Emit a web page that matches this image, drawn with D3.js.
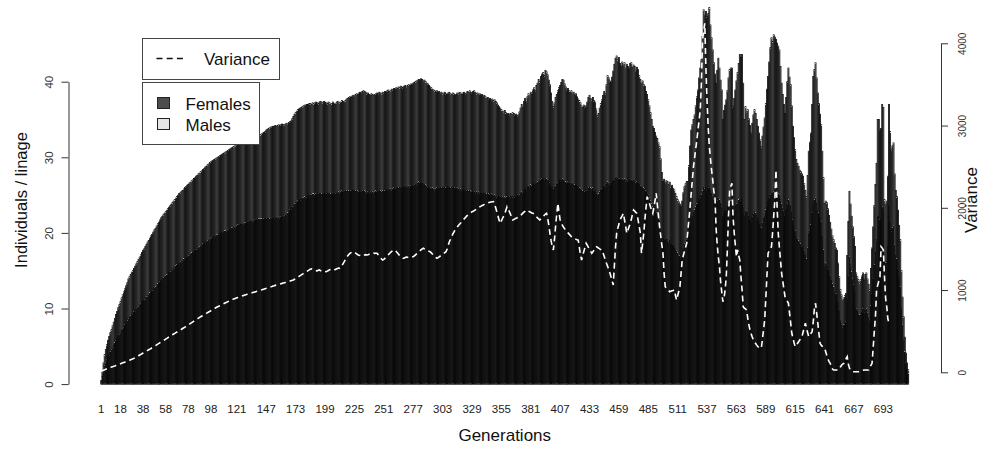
<!DOCTYPE html>
<html>
<head>
<meta charset="utf-8">
<script src="https://cdn.jsdelivr.net/npm/d3@7"></script>
<style>
  body { margin: 0; background: #fff; }
  svg { display: block; }
  text { font-family: "Liberation Sans", Arial, sans-serif; }
</style>
</head>
<body>
<svg id="chart" width="986" height="449"></svg>
<script>
// Mean individuals per lineage (females + males) for each generation
const individuals = [
0.5,1.6,2.8,3.9,4.6,5.2,5.8,6.3,6.8,7.2,
7.7,8.2,8.7,9.2,9.6,10.1,10.5,10.9,11.4,11.8,
12.2,12.6,13.0,13.4,13.9,14.2,14.5,14.8,15.0,15.3,
15.6,15.9,16.2,16.5,16.8,17.1,17.4,17.7,17.9,18.2,
18.5,18.8,19.0,19.3,19.6,19.8,20.1,20.4,20.6,20.9,
21.2,21.4,21.7,22.0,22.2,22.4,22.6,22.8,23.0,23.2,
23.4,23.6,23.8,24.0,24.2,24.4,24.6,24.8,25.0,25.2,
25.3,25.5,25.6,25.8,26.0,26.1,26.3,26.4,26.6,26.7,
26.9,27.0,27.2,27.3,27.5,27.6,27.8,27.9,28.1,28.2,
28.4,28.5,28.7,28.8,29.0,29.1,29.3,29.4,29.5,29.6,
29.7,29.8,29.9,30.0,30.1,30.2,30.3,30.4,30.5,30.6,
30.7,30.8,30.9,31.0,31.1,31.2,31.3,31.4,31.5,31.5,
31.6,31.7,31.8,31.8,31.9,32.0,32.0,32.1,32.2,32.2,
32.3,32.3,32.4,32.4,32.5,32.5,32.6,32.6,32.6,32.7,
32.8,33.0,33.1,33.2,33.3,33.4,33.6,33.7,33.8,33.9,
34.0,34.0,34.1,34.1,34.2,34.1,34.2,34.3,34.2,34.3,
34.4,34.3,34.3,34.4,34.5,34.4,34.6,34.7,34.8,35.1,
35.4,35.7,35.9,36.1,36.3,36.4,36.5,36.6,36.7,36.8,
36.9,36.9,37.0,37.0,37.1,37.1,37.0,37.2,37.1,37.2,
37.3,37.2,37.1,37.3,37.4,37.3,37.2,37.4,37.3,37.2,
37.1,37.3,37.2,37.0,37.1,37.3,37.1,37.0,37.2,37.4,
37.3,37.2,37.3,37.5,37.4,37.3,37.5,37.7,37.8,37.9,
38.0,37.9,38.1,38.2,38.1,38.3,38.4,38.3,38.5,38.6,
38.5,38.7,38.8,38.7,38.6,38.4,38.5,38.3,38.2,38.4,
38.3,38.2,38.3,38.4,38.5,38.4,38.6,38.5,38.4,38.6,
38.5,38.7,38.6,38.8,38.9,38.7,38.8,39.0,38.9,39.1,
39.0,39.2,39.1,39.3,39.2,39.4,39.3,39.2,39.4,39.5,
39.3,39.5,39.6,39.5,39.7,39.6,39.8,39.9,40.0,40.1,
40.2,40.3,40.2,40.4,40.3,40.1,40.2,40.0,39.8,39.7,
39.5,39.3,39.2,39.0,38.9,38.8,38.7,38.8,38.6,38.7,
38.5,38.6,38.4,38.5,38.6,38.4,38.3,38.5,38.6,38.4,
38.3,38.5,38.4,38.2,38.3,38.5,38.4,38.6,38.5,38.3,
38.5,38.6,38.4,38.5,38.7,38.6,38.8,38.6,38.5,38.7,
38.8,38.6,38.4,38.5,38.3,38.4,38.2,38.3,38.1,38.2,
38.0,37.8,37.9,37.7,37.8,37.6,37.7,37.5,37.6,37.4,
37.2,36.9,36.7,36.5,36.3,36.1,36.0,36.2,35.9,35.7,
35.8,35.6,35.8,35.7,35.9,35.8,35.6,35.7,35.5,35.6,
36.0,36.5,37.0,36.6,37.4,37.8,37.3,38.0,38.4,38.1,
38.6,38.3,38.9,39.2,38.8,39.5,39.8,40.3,40.0,40.7,
41.0,41.2,40.8,41.5,41.3,40.9,40.2,39.6,38.5,37.4,
36.7,37.2,37.9,38.3,38.8,39.2,39.5,39.9,40.3,40.2,
39.7,39.3,38.9,39.1,38.8,38.6,38.8,38.5,38.6,38.3,
38.4,38.0,37.7,37.5,37.2,36.8,36.6,36.9,36.5,36.8,
37.3,37.9,38.2,37.8,37.6,37.9,37.5,37.3,36.4,35.5,
35.8,36.5,37.1,37.6,38.2,38.7,38.4,39.6,40.8,40.5,
40.1,39.9,40.6,41.4,42.3,43.1,43.4,42.9,43.2,42.4,
42.0,42.6,42.2,42.5,41.8,42.3,42.0,41.7,42.4,42.5,
41.9,42.2,42.0,41.4,41.9,41.6,40.8,40.3,39.8,40.1,
39.6,39.4,38.7,38.3,37.6,36.8,35.9,35.0,34.1,33.8,
33.3,32.8,32.5,31.9,31.4,29.8,28.0,26.8,27.1,26.6,
26.9,26.8,26.4,26.7,26.1,26.3,25.9,25.7,25.2,24.8,
24.4,24.1,23.8,23.5,24.2,25.3,26.1,26.5,26.8,26.8,
28.9,31.5,33.6,34.3,35.0,35.6,36.8,38.0,38.9,40.5,
41.8,42.9,46.0,49.5,48.8,49.3,48.6,49.0,49.8,47.5,
45.8,44.2,42.5,41.0,39.8,41.5,43.1,41.8,40.2,38.9,
35.0,36.2,36.9,37.6,38.8,40.5,41.6,41.8,41.8,36.7,
37.8,38.9,40.1,41.2,42.4,43.6,43.2,43.6,39.8,35.0,
36.7,36.0,36.3,35.1,34.2,33.2,34.5,35.6,36.3,35.8,
35.0,34.1,33.2,32.3,31.4,32.8,34.0,35.2,37.1,39.0,
40.7,42.6,44.5,45.8,45.3,46.2,45.9,45.6,45.1,44.7,
44.2,42.0,39.8,38.3,37.0,35.8,37.9,40.0,41.8,40.6,
39.6,36.8,34.1,32.6,31.0,29.7,29.2,28.8,28.3,28.1,
27.8,27.5,26.5,25.6,24.8,27.6,30.8,32.0,33.2,37.0,
40.7,41.6,42.5,40.5,38.5,37.1,35.7,34.3,30.8,27.3,
23.9,24.2,24.0,23.2,22.3,21.4,20.5,19.6,19.1,18.6,
18.0,17.7,16.0,14.2,12.5,11.8,11.1,11.4,11.7,12.0,
17.0,21.5,25.5,23.8,22.2,20.8,19.5,18.2,14.7,14.2,
13.8,13.4,13.8,14.3,14.7,13.9,14.5,14.7,13.9,13.2,
12.5,15.3,18.0,20.8,23.6,26.4,29.2,35.0,35.0,33.6,
33.8,37.0,36.6,24.4,23.8,24.2,27.5,37.0,33.4,31.0,
31.5,31.9,27.8,25.6,24.8,23.0,21.0,19.1,15.0,11.5,
8.9,6.2,4.1,2.8,1.9
];

// Mean females per lineage for each generation (bottom segment of each bar)
const females = [
0.3,1.0,1.7,2.4,2.8,3.2,3.6,3.9,4.2,4.5,
4.8,5.1,5.4,5.7,6.0,6.3,6.5,6.8,7.1,7.3,
7.6,7.8,8.1,8.3,8.6,8.8,9.0,9.2,9.3,9.5,
9.7,9.9,10.0,10.2,10.4,10.6,10.8,11.0,11.1,11.3,
11.5,11.7,11.8,12.0,12.2,12.3,12.5,12.7,12.8,13.0,
13.2,13.3,13.5,13.7,13.8,14.0,14.1,14.3,14.4,14.6,
14.7,14.8,15.0,15.1,15.3,15.4,15.6,15.7,15.9,16.0,
16.1,16.2,16.3,16.5,16.6,16.7,16.8,16.9,17.1,17.2,
17.3,17.4,17.5,17.6,17.7,17.9,18.0,18.1,18.2,18.3,
18.5,18.6,18.7,18.8,18.9,19.0,19.1,19.2,19.3,19.4,
19.5,19.6,19.7,19.7,19.8,19.9,20.0,20.0,20.1,20.2,
20.2,20.3,20.4,20.4,20.5,20.6,20.6,20.7,20.8,20.8,
20.9,21.0,21.0,21.1,21.1,21.2,21.2,21.3,21.3,21.4,
21.4,21.5,21.5,21.6,21.6,21.6,21.7,21.7,21.7,21.8,
21.8,21.8,21.8,21.9,21.8,21.9,21.8,21.9,21.9,21.8,
21.9,22.0,21.9,22.0,22.0,21.9,22.0,22.1,22.0,22.1,
22.2,22.1,22.2,22.3,22.4,22.6,22.8,23.0,23.2,23.4,
23.6,23.8,24.0,24.1,24.2,24.3,24.4,24.5,24.6,24.6,
24.7,24.8,24.8,24.9,24.9,25.0,25.0,25.1,25.1,25.0,
25.1,25.2,25.1,25.2,25.2,25.1,25.2,25.3,25.2,25.1,
25.2,25.3,25.2,25.1,25.2,25.3,25.2,25.1,25.2,25.3,
25.4,25.3,25.4,25.5,25.4,25.5,25.6,25.5,25.6,25.5,
25.6,25.5,25.6,25.7,25.6,25.5,25.6,25.5,25.4,25.5,
25.4,25.5,25.6,25.5,25.4,25.3,25.4,25.3,25.2,25.3,
25.4,25.3,25.4,25.5,25.4,25.5,25.6,25.5,25.4,25.5,
25.6,25.5,25.6,25.7,25.6,25.7,25.8,25.7,25.8,25.9,
25.8,25.9,26.0,25.9,26.0,26.1,26.0,26.1,26.2,26.1,
26.0,26.1,26.2,26.1,26.2,26.3,26.2,26.3,26.4,26.5,
26.6,26.7,26.6,26.7,26.6,26.5,26.4,26.3,26.2,26.1,
26.0,25.9,25.8,25.9,25.8,25.7,25.8,25.9,25.8,25.9,
26.0,25.9,26.0,26.1,26.0,25.9,26.0,26.1,26.0,25.9,
26.0,26.1,26.0,25.9,25.8,25.9,25.8,25.7,25.8,25.7,
25.6,25.7,25.6,25.5,25.6,25.5,25.6,25.5,25.4,25.5,
25.4,25.3,25.4,25.3,25.4,25.3,25.2,25.3,25.2,25.3,
25.2,25.1,25.2,25.1,25.0,25.1,25.0,24.9,25.0,24.9,
24.8,24.9,24.8,24.7,24.8,24.7,24.8,24.7,24.6,24.7,
24.8,24.7,24.8,24.9,24.8,24.9,24.8,24.9,25.0,24.9,
25.0,25.2,25.4,25.3,25.6,25.8,25.7,26.0,26.2,26.1,
26.3,26.2,26.4,26.5,26.4,26.6,26.7,26.9,26.8,27.0,
27.1,27.2,27.0,27.2,27.1,27.0,26.8,26.6,26.3,26.0,
25.8,26.0,26.2,26.4,26.6,26.8,26.9,27.0,27.1,27.0,
26.9,26.7,26.6,26.7,26.6,26.5,26.6,26.4,26.5,26.3,
26.4,26.2,26.0,25.9,25.8,25.6,25.5,25.6,25.4,25.5,
25.7,25.9,26.0,25.9,25.8,25.9,25.7,25.6,25.3,25.0,
25.1,25.4,25.6,25.8,26.0,26.2,26.1,26.4,26.7,26.6,
26.5,26.4,26.6,26.8,27.0,27.2,27.3,27.2,27.3,27.1,
27.0,27.1,27.0,27.1,26.9,27.0,26.9,26.8,27.0,27.0,
26.8,26.9,26.8,26.6,26.7,26.6,26.4,26.2,26.0,26.1,
25.9,25.8,25.5,25.3,25.0,24.6,24.2,23.8,23.4,23.2,
22.9,22.6,22.4,22.0,21.7,20.8,19.8,19.1,19.3,19.0,
19.2,19.1,18.8,19.0,18.6,18.7,18.4,18.3,17.9,17.6,
17.3,17.1,16.9,16.7,17.2,17.9,18.5,18.8,19.0,19.0,
20.0,21.2,22.0,22.4,22.7,23.0,23.4,23.8,24.0,24.5,
24.8,25.0,25.5,26.0,25.8,26.0,25.7,25.9,26.1,25.6,
25.2,24.9,24.5,24.1,23.8,24.2,24.6,24.3,23.9,23.6,
22.4,22.8,23.0,23.2,23.5,23.9,24.1,24.2,24.2,22.9,
23.2,23.5,23.8,24.0,24.3,24.5,24.4,24.5,23.6,22.4,
22.9,22.7,22.8,22.4,22.0,21.6,22.1,22.5,22.8,22.6,
22.3,21.9,21.5,21.1,20.6,21.3,21.9,22.4,23.0,23.6,
24.1,24.6,25.0,25.3,25.2,25.4,25.3,25.3,25.2,25.1,
25.0,24.4,23.8,23.3,22.9,22.4,23.1,23.8,24.3,24.0,
23.7,22.7,21.7,21.0,20.2,19.5,19.2,18.9,18.6,18.5,
18.3,18.1,17.6,17.0,16.5,18.0,19.8,20.4,21.0,22.6,
24.0,24.3,24.6,23.9,23.2,22.6,22.0,21.4,19.6,17.7,
15.8,16.0,15.9,15.4,14.9,14.3,13.7,13.2,12.8,12.5,
12.1,11.9,10.8,9.6,8.5,8.0,7.6,7.8,8.0,8.2,
11.4,14.3,16.8,15.8,14.8,13.9,13.1,12.2,9.9,9.6,
9.3,9.1,9.3,9.7,9.9,9.4,9.8,9.9,9.4,8.9,
8.5,10.3,12.1,13.9,15.7,17.4,19.1,22.4,22.4,21.7,
21.8,23.4,23.2,16.3,16.0,16.2,18.2,23.5,21.6,20.3,
20.6,20.9,18.4,17.0,16.5,15.4,14.1,12.8,10.1,7.8,
6.0,4.2,2.8,1.9,1.3
];

// Variance of lineage size per generation (right axis); not available for the last generations
const variance = [
15,20,26,31,37,42,48,53,58,63,68,73,78,84,89,94,99,104,109,115,
120,125,131,136,142,147,153,158,164,170,
178,186,194,202,210,218,226,234,242,250,258,266,274,282,290,
299,308,316,325,334,343,351,360,369,378,386,395,404,413,
422,430,439,447,456,465,473,482,490,499,507,516,524,533,541,550,
559,568,577,586,595,604,613,622,631,640,649,658,667,676,
684,692,700,709,717,725,733,741,749,757,766,774,782,790,
797,804,811,818,825,832,839,846,852,859,866,873,880,
885,890,895,900,905,910,915,920,925,930,935,940,
944,948,952,957,961,965,969,973,977,981,986,990,
994,999,1003,1008,1012,1017,1021,1026,1030,1035,1039,1043,1048,1052,1057,1061,
1065,1069,1073,1077,1081,1085,1089,1093,1097,1102,1106,1110,1114,1118,1122,
1131,1140,1149,1157,1166,1175,1184,1193,1201,1210,1219,1228,1237,1245,1254,
1258,1252,1246,1240,1236,1232,1240,1244,1236,1228,1224,1230,1226,1223,
1230,1238,1246,1250,1245,1240,1244,1250,1256,1262,1268,1264,
1280,1300,1322,1345,1370,1395,1415,1432,1445,1455,1462,1466,
1460,1450,1440,1430,1424,1420,1416,1410,1418,1425,1430,1426,
1430,1436,1442,1448,1452,1450,1446,1448,1447,
1430,1412,1395,1378,1365,
1372,1385,1400,1415,1430,1445,1458,1470,1478,1484,1487,
1470,1452,1435,1418,1404,1392,1386,
1390,1396,1402,1398,1392,1396,1400,1404,1405,
1415,1428,1440,1452,1465,1478,1490,1500,1508,
1500,1494,1488,1480,1472,1466,
1452,1438,1424,1410,1396,1386,
1394,1404,1414,1424,1434,1444,1456,1466,
1500,1545,1588,
1618,1650,1680,1705,1730,
1750,1768,1785,1800,1815,1835,1852,
1865,1880,1895,1908,1920,1933,
1942,1950,1958,1966,1975,1984,1993,2003,2013,
2020,2028,2035,2042,2050,2055,
2060,2064,2068,2071,2073,2074,
2040,2000,1950,1900,1850,1811,
1840,1870,1900,1930,1970,2013,
1985,1955,1925,1890,1852,
1858,1865,1872,1878,1885,1892,
1905,1920,1935,1948,1960,1973,
1968,1960,1952,1945,1938,1933,
1920,1905,1890,1878,1865,1852,
1865,1880,1895,1910,1922,1933,
1870,1790,1690,1600,1530,1487,
1620,1780,1920,2055,
1950,1852,1820,1790,1765,1745,1730,
1710,1695,1680,1665,1649,
1640,1632,1625,1618,1612,1608,
1520,1430,1365,
1420,1470,1520,1568,
1545,1520,1495,1470,1447,
1465,1485,1505,1527,
1520,1510,1500,1492,1487,
1450,1410,1365,1325,
1290,1250,1210,1162,1110,1061,
1300,1520,1690,1750,1800,1852,1880,1905,1933,
1850,1770,1690,1730,1770,1811,1860,1920,1973,
1960,1945,1933,1850,1770,1690,1447,1570,1690,
1860,2000,2135,2095,2055,2010,1970,1933,
2010,2090,2176,2040,1900,1770,1660,1550,1447,
1200,1041,1025,1010,995,980,985,990,995,1001,
940,879,930,985,1041,1200,1365,
1420,1470,1520,1568,1720,1870,2013,
2180,2340,2500,2610,2720,2824,2950,3070,3189,
3514,4040,4150,4243,3700,3300,2986,
2750,2600,2460,2340,2200,2135,
1750,1550,1400,1284,1100,980,858,900,
1000,1162,1500,1900,2216,2260,2298,
1892,1700,1550,1405,1487,1420,1365,
1162,1000,798,780,770,757,660,580,514,
470,430,393,370,350,330,311,305,298,292,
400,520,636,900,1180,1447,1475,1500,1527,
1700,1900,2095,2460,2000,1690,1520,1360,1204,
1110,1010,919,890,865,839,720,600,474,
420,360,311,330,350,372,392,412,433,
490,545,596,540,480,433,455,475,494,
620,780,839,717,600,470,352,330,315,300,292,
250,205,160,130,109,70,40,28,
28,28,28,28,45,65,85,100,109,
140,165,190,100,49,30,15,7,
7,7,7,7,7,12,18,22,26,28,
28,28,28,28,60,85,109,300,500,676,
1001,1060,1110,1162,1527,1510,1487,1162,900,798,
650,596
];

// Generation labels shown under the bars, and axis tick values
const tickGenerations = [1,18,38,58,78,98,121,147,173,199,225,251,277,303,329,355,381,407,433,459,485,511,537,563,589,615,641,667,693];
const leftTicks = [0,10,20,30,40];
const rightTicks = [0,1000,2000,3000,4000];

const generations = d3.range(1, individuals.length + 1);

const FEMALE = "#4d4d4d", MALE = "#e6e6e6";
const FONT = "'Liberation Sans', Arial, sans-serif";

const svg = d3.select("#chart");

// Plot region (barplot extends its x range by 4% on each side)
const plotLeft = 68.5, plotRight = 941;
const pad = (plotRight - plotLeft) * 0.04 / 1.08;

const x = d3.scaleBand()
  .domain(generations)
  .range([plotLeft + pad, plotRight - pad])
  .paddingInner(1 / 6)
  .paddingOuter(0);
const yL = d3.scaleLinear().domain([0, 40]).range([384.1, 81.7]);
const yR = d3.scaleLinear().domain([0, 4000]).range([372.3, 43.3]);

// Stacked bars: females at the bottom, males on top, drawn bar by bar
const segments = generations.flatMap((g, i) => {
  const f = females[i];
  const m = Math.max(0, individuals[i] - f);
  return [
    { g, y0: 0, y1: f, fill: FEMALE },
    { g, y0: f, y1: f + m, fill: MALE }
  ];
});

svg.append("g")
  .selectAll("rect")
  .data(segments)
  .join("rect")
  .attr("x", d => x(d.g))
  .attr("width", x.bandwidth())
  .attr("y", d => yL(d.y1))
  .attr("height", d => yL(d.y0) - yL(d.y1))
  .attr("fill", d => d.fill)
  .attr("stroke", "#000")
  .attr("stroke-width", 0.82);

// Variance as a white dashed line on the secondary axis
const varLine = d3.line()
  .x((d, i) => x(generations[i]) + x.bandwidth() / 2)
  .y(d => yR(d));

svg.append("path")
  .datum(variance)
  .attr("d", varLine)
  .attr("fill", "none")
  .attr("stroke", "#fff")
  .attr("stroke-width", 1.6)
  .attr("stroke-dasharray", "6,4");

// Left axis
const axL = svg.append("g")
  .attr("transform", `translate(${plotLeft},0)`)
  .call(d3.axisLeft(yL).tickValues(leftTicks).tickSize(7).tickSizeOuter(0));
axL.select(".domain").attr("stroke", "#333");
axL.selectAll(".tick line").attr("stroke", "#333");
axL.selectAll(".tick text")
  .attr("transform", "rotate(-90)")
  .attr("x", 0).attr("y", -15.5).attr("dy", null)
  .attr("text-anchor", "middle")
  .attr("font-family", FONT).attr("font-size", 11.5).attr("fill", "#333");

// Right axis
const axR = svg.append("g")
  .attr("transform", `translate(${plotRight},0)`)
  .call(d3.axisRight(yR).tickValues(rightTicks).tickFormat(d3.format("d")).tickSize(7).tickSizeOuter(0));
axR.select(".domain").attr("stroke", "#333");
axR.selectAll(".tick line").attr("stroke", "#333");
axR.selectAll(".tick text")
  .attr("transform", "rotate(-90)")
  .attr("x", 0).attr("y", 24.5).attr("dy", null)
  .attr("text-anchor", "middle")
  .attr("font-family", FONT).attr("font-size", 10).attr("fill", "#333");

// Generation labels
svg.append("g")
  .selectAll("text")
  .data(tickGenerations)
  .join("text")
  .attr("x", g => x(g) + x.bandwidth() / 2)
  .attr("y", 413)
  .attr("text-anchor", "middle")
  .attr("font-family", FONT).attr("font-size", 11.5).attr("fill", "#222")
  .text(g => g);

// Axis titles
svg.append("text")
  .attr("x", (plotLeft + plotRight) / 2).attr("y", 441)
  .attr("text-anchor", "middle")
  .attr("font-family", FONT).attr("font-size", 17).attr("fill", "#111")
  .text("Generations");

svg.append("text")
  .attr("transform", "translate(26.5,200) rotate(-90)")
  .attr("text-anchor", "middle")
  .attr("font-family", FONT).attr("font-size", 16.5).attr("fill", "#111")
  .text("Individuals / linage");

svg.append("text")
  .attr("transform", "translate(977,200) rotate(-90)")
  .attr("text-anchor", "middle")
  .attr("font-family", FONT).attr("font-size", 17).attr("fill", "#111")
  .text("Variance");

// Legend: variance line
const lg1 = svg.append("g");
lg1.append("rect")
  .attr("x", 142.5).attr("y", 38.5).attr("width", 137).attr("height", 41)
  .attr("fill", "#fff").attr("stroke", "#444");
lg1.append("line")
  .attr("x1", 156.5).attr("x2", 187).attr("y1", 58.5).attr("y2", 58.5)
  .attr("stroke", "#111").attr("stroke-width", 1.3).attr("stroke-dasharray", "6,4.2");
lg1.append("text")
  .attr("x", 204).attr("y", 65)
  .attr("font-family", FONT).attr("font-size", 17).attr("fill", "#111")
  .text("Variance");

// Legend: sexes
const lg2 = svg.append("g");
lg2.append("rect")
  .attr("x", 142.5).attr("y", 82.5).attr("width", 117).attr("height", 62)
  .attr("fill", "#fff").attr("stroke", "#444");
const sexes = [{ label: "Females", fill: FEMALE }, { label: "Males", fill: MALE }];
lg2.selectAll("rect.key")
  .data(sexes)
  .join("rect")
  .attr("class", "key")
  .attr("x", 157.5).attr("y", (d, i) => 97.5 + i * 21)
  .attr("width", 12).attr("height", 11)
  .attr("fill", d => d.fill).attr("stroke", "#222");
lg2.selectAll("text")
  .data(sexes)
  .join("text")
  .attr("x", 185.5).attr("y", (d, i) => 109.5 + i * 21)
  .attr("font-family", FONT).attr("font-size", 17).attr("fill", "#111")
  .text(d => d.label);
</script>
</body>
</html>
